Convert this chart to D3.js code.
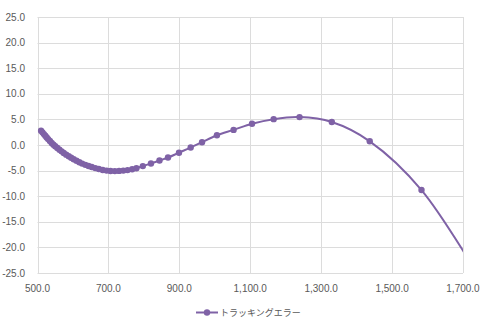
<!DOCTYPE html>
<html><head><meta charset="utf-8">
<script src="https://cdn.jsdelivr.net/npm/d3@7"></script>
<style>
html,body{margin:0;padding:0;background:#fff;}
text{font-family:"Liberation Sans","Noto Sans",sans-serif;}
</style></head>
<body><svg id="c" width="480" height="325"></svg>
<script>
const seriesName = "トラッキングエラー";
const xValues = [510,514,518,522,526,530,535,540,545,550,556,562,568,574,581,588,595,602,610,618,626,635,644,653,663,673,684,695,706,718,730,742,754,767,779,797,820,844,868,899,932,964,1006,1053,1105,1166,1239,1330,1437,1583,1765];
const yValues = [2.80,2.47,2.13,1.80,1.47,1.15,0.77,0.40,0.07,-0.23,-0.60,-0.93,-1.24,-1.55,-1.88,-2.21,-2.50,-2.79,-3.09,-3.38,-3.63,-3.88,-4.10,-4.31,-4.51,-4.70,-4.87,-5.00,-5.07,-5.10,-5.06,-5.00,-4.90,-4.75,-4.55,-4.12,-3.60,-3.03,-2.45,-1.50,-0.50,0.55,1.90,2.95,4.15,5.05,5.45,4.48,0.72,-8.80,-28.0];
const xTicks = [500,700,900,1100,1300,1500,1700];
const yTicks = [25,20,15,10,5,0,-5,-10,-15,-20,-25];

const data = xValues.map((x,i)=>({x, y:yValues[i]}));
const svg = d3.select("#c");
const L=37.5, R=463, T=17, B=273;
const x = d3.scaleLinear().domain([500,1700]).range([L,R]);
const y = d3.scaleLinear().domain([-25,25]).range([B,T]);
const fmt = v => d3.format(",.1f")(v).replace("\u2212","-");
const grid = "#dcdcdc", txt = "#595959", col = "#7f62a6";

// gridlines
svg.append("g").selectAll("line").data(yTicks).join("line")
  .attr("x1",L).attr("x2",R).attr("y1",d=>Math.round(y(d))+0.5).attr("y2",d=>Math.round(y(d))+0.5)
  .attr("stroke",grid).attr("stroke-width",1);
svg.append("g").selectAll("line").data(xTicks).join("line")
  .attr("y1",T).attr("y2",B).attr("x1",d=>Math.round(x(d))+0.5).attr("x2",d=>Math.round(x(d))+0.5)
  .attr("stroke",grid).attr("stroke-width",1);

// axes labels
svg.append("g").selectAll("text").data(yTicks).join("text")
  .attr("x",25).attr("y",d=>y(d)).attr("dy","0.35em").attr("text-anchor","end")
  .attr("font-size",10).attr("fill",txt).text(fmt);
svg.append("g").selectAll("text").data(xTicks).join("text")
  .attr("x",d=>x(d)).attr("y",288).attr("dy","0.35em").attr("text-anchor","middle")
  .attr("font-size",10).attr("fill",txt).text(fmt);

// clip
svg.append("defs").append("clipPath").attr("id","clip")
  .append("rect").attr("x",L).attr("y",T-6).attr("width",R-L).attr("height",B-T+12);

const g = svg.append("g").attr("clip-path","url(#clip)");
const line = d3.line().x(d=>x(d.x)).y(d=>y(d.y)).curve(d3.curveCatmullRom.alpha(0.5));
g.append("path").datum(data).attr("d",line).attr("fill","none").attr("stroke",col).attr("stroke-width",2);
g.selectAll("circle").data(data).join("circle")
  .attr("cx",d=>x(d.x)).attr("cy",d=>y(d.y)).attr("r",3.2).attr("fill",col);

// legend
const lg = svg.append("g");
lg.append("line").attr("x1",196).attr("x2",218).attr("y1",312.5).attr("y2",312.5).attr("stroke",col).attr("stroke-width",2);
lg.append("circle").attr("cx",207).attr("cy",312.5).attr("r",3.2).attr("fill",col);
lg.append("text").attr("x",220).attr("y",312.5).attr("dy","0.35em").attr("font-size",9)
  .attr("fill",txt).style("font-family","'Noto Sans CJK JP',sans-serif").text(seriesName);
</script></body></html>
